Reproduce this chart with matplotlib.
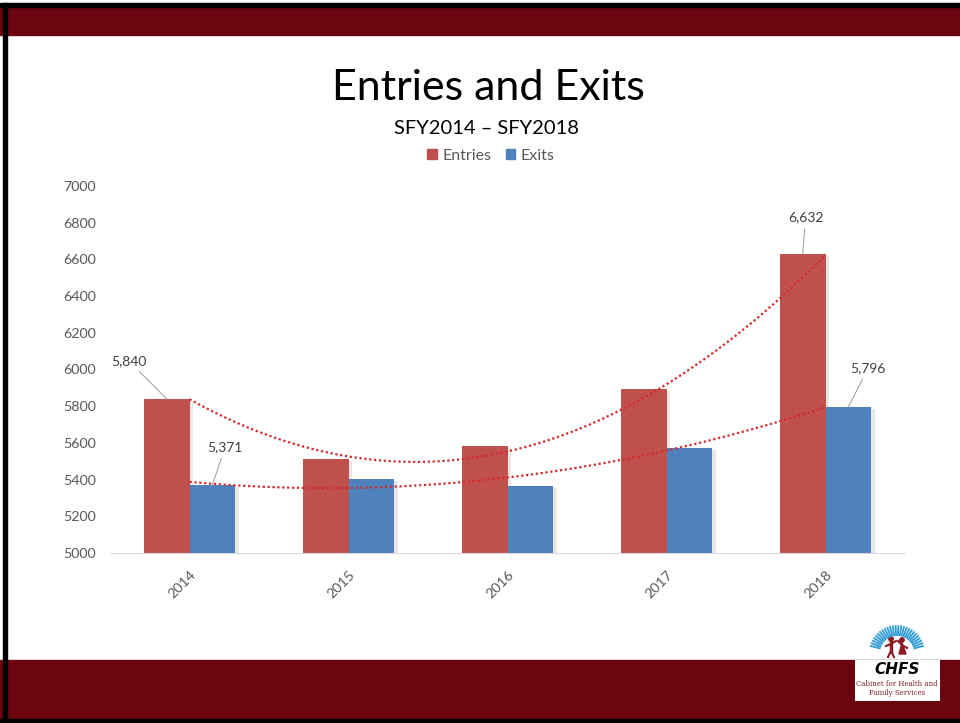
import numpy as np
import matplotlib.pyplot as plt
from matplotlib.patches import Rectangle, Circle, Patch
from matplotlib import patheffects as pe

plt.rcParams['font.family'] = ['Lato', 'DejaVu Sans']

years = ['2014', '2015', '2016', '2017', '2018']
entries = [5840, 5512, 5583, 5894, 6632]
exits = [5371, 5403, 5365, 5572, 5796]

# which bars get a value label, and where the label sits (pixel offset from bar top)
entry_labels = {0: (-38, 38), 4: (3, 36)}
exit_labels = {0: (13, 38), 4: (20, 39)}

RED = '#C0504D'
BLUE = '#4F81BD'
MAROON = '#6D0510'
GREY = '#595959'

W, H = 960, 723
fig = plt.figure(figsize=(W / 100, H / 100), dpi=100)


def fx(px):
    return px / W


def fy(py):
    return 1 - py / H


# slide banners and frame
fig.patches.append(Rectangle((0, fy(35)), 1, fy(7) - fy(35), transform=fig.transFigure,
                             color=MAROON, zorder=0))
fig.patches.append(Rectangle((0, fy(719)), 1, fy(660) - fy(719), transform=fig.transFigure,
                             color=MAROON, zorder=0))
fig.patches.append(Rectangle((0, fy(7)), 1, fy(3) - fy(7), transform=fig.transFigure,
                             color='black', zorder=1))
fig.patches.append(Rectangle((0, 0), 1, fy(719), transform=fig.transFigure,
                             color='black', zorder=1))
fig.patches.append(Rectangle((fx(3), 0), fx(4), fy(3), transform=fig.transFigure,
                             color='black', zorder=1))

fig.text(fx(488), fy(88), 'Entries and Exits', ha='center', va='center',
         fontsize=31, color='black')
fig.text(fx(486), fy(128), 'SFY2014 \u2013 SFY2018', ha='center', va='center',
         fontsize=14.5, color='black')

ax = fig.add_axes([fx(110), fy(553), fx(905) - fx(110), fy(186) - fy(553)])
x = np.arange(len(years))
bw = 0.287
shadow = [pe.SimplePatchShadow(offset=(2.5, -1.5), alpha=0.15, shadow_rgbFace='#606060'), pe.Normal()]
b1 = ax.bar(x - bw / 2, entries, bw, color=RED, zorder=2)
b2 = ax.bar(x + bw / 2, exits, bw, color=BLUE, zorder=2)
for b in list(b1) + list(b2):
    b.set_path_effects(shadow)

# second-order polynomial trend lines through the category centres
xs = np.linspace(0, 4, 200)
for series in (entries, exits):
    c = np.polyfit(x, series, 2)
    ax.plot(xs, np.polyval(c, xs), color='#D42A2A', lw=1.6, ls=(0, (1, 1.2)), zorder=3)

for series, off, labels in ((entries, -bw / 2, entry_labels), (exits, bw / 2, exit_labels)):
    for i, (dx, dy) in labels.items():
        ax.annotate(f'{series[i]:,}', xy=(i + off, series[i]), xytext=(dx, dy),
                    textcoords='offset pixels', ha='center', va='center',
                    fontsize=10, color='#404040', zorder=4,
                    arrowprops=dict(arrowstyle='-', color='#A6A6A6', lw=0.8,
                                    shrinkA=2, shrinkB=0))

ax.set_xlim(-0.5, 4.5)
ax.set_ylim(5000, 7000)
ax.set_yticks(range(5000, 7001, 200))
ax.set_xticks(x)
ax.set_xticklabels(years, rotation=45, ha='right', rotation_mode='anchor')
ax.tick_params(length=0, colors=GREY, labelsize=10.3)
ax.tick_params(axis='y', pad=10)
ax.tick_params(axis='x', pad=11)
for s in ('top', 'right', 'left'):
    ax.spines[s].set_visible(False)
ax.spines['bottom'].set_color('#D9D9D9')

fig.legend(handles=[Patch(color=RED), Patch(color=BLUE)], labels=['Entries', 'Exits'],
           loc='center', ncol=2, bbox_to_anchor=(fx(491), fy(156)), frameon=False,
           fontsize=11.5, handlelength=0.6, handleheight=0.6, handletextpad=0.35,
           columnspacing=0.9, labelcolor=GREY)

# CHFS logo
lax = fig.add_axes([fx(855), fy(701), fx(85), fy(625) - fy(701)])
lax.set_zorder(5)
lax.set_xlim(0, 85)
lax.set_ylim(0, 76)
lax.axis('off')
lax.add_patch(Rectangle((0, 0), 85, 41, color='white'))
for ang in np.linspace(15, 165, 26):
    t = np.radians(ang)
    lax.plot([42 + 18 * np.cos(t), 42 + 27 * np.cos(t)],
             [48 + 18 * np.sin(t), 48 + 27 * np.sin(t)], color='#2E9BD6', lw=1.3)
lax.add_patch(Circle((36, 62), 2.2, color='#8B1A22'))
lax.add_patch(Circle((47, 61), 2.2, color='#8B1A22'))
lax.plot([36, 36], [59, 50], color='#8B1A22', lw=2.5)
lax.plot([31, 36, 41], [55, 57, 60], color='#8B1A22', lw=1.5)
lax.plot([33, 36, 39], [44, 50, 44], color='#8B1A22', lw=1.5)
lax.fill([44, 47, 51], [47, 58, 47], color='#8B1A22')
lax.plot([43, 47, 52], [60, 56, 53], color='#8B1A22', lw=1.5)
lax.text(42, 32, 'CHFS', ha='center', va='center', fontsize=11, fontweight='bold',
         fontstyle='italic', family='DejaVu Sans', color='black')
lax.text(42, 17, 'Cabinet for Health and', ha='center', va='center', fontsize=5,
         family='DejaVu Serif', color='#7A1C26')
lax.text(42, 8, 'Family Services', ha='center', va='center', fontsize=5,
         family='DejaVu Serif', color='#7A1C26')

fig.savefig('out.png', dpi=100)
